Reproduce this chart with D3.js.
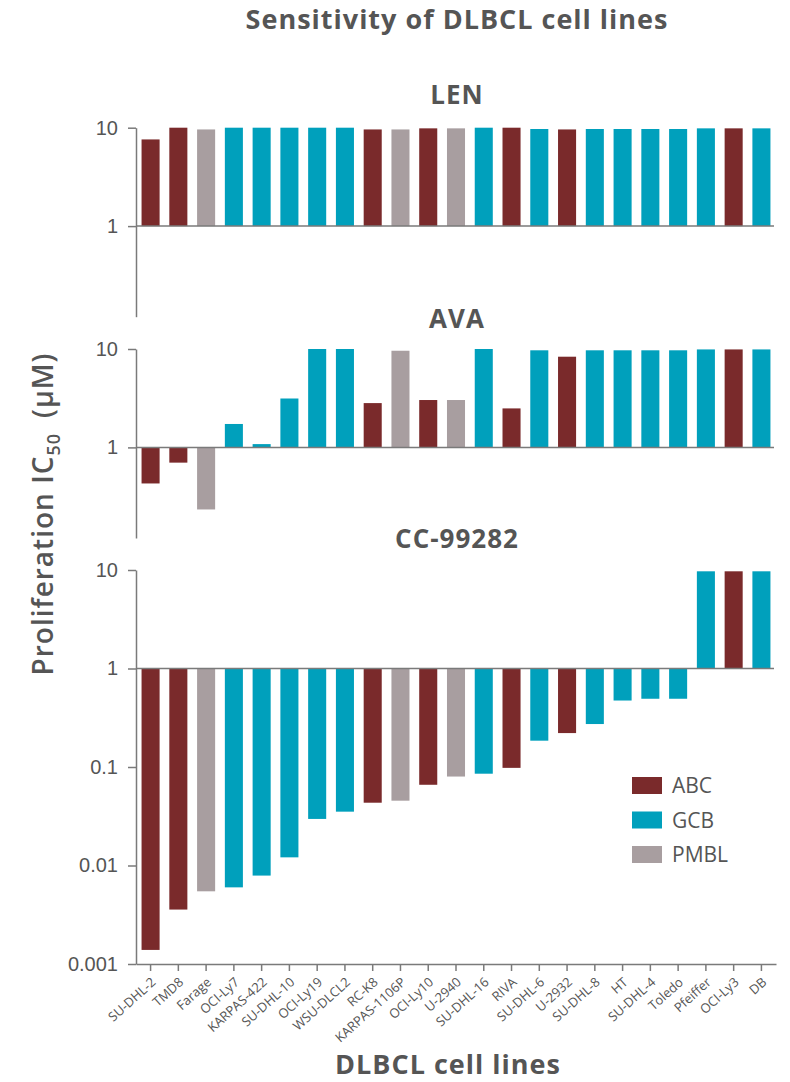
<!DOCTYPE html>
<html>
<head>
<meta charset="utf-8">
<script src="https://cdn.jsdelivr.net/npm/d3@7"></script>
<style>
  body { margin: 0; background: #fff; }
  svg { display: block; }
  .tick text { fill: #555; }
</style>
</head>
<body>
<div id="chart"></div>
<script>
// cell lines, left to right
const cellLines = ['SU-DHL-2', 'TMD8', 'Farage', 'OCI-Ly7', 'KARPAS-422', 'SU-DHL-10', 'OCI-Ly19', 'WSU-DLCL2',
    'RC-K8', 'KARPAS-1106P', 'OCI-Ly10', 'U-2940', 'SU-DHL-16', 'RIVA', 'SU-DHL-6', 'U-2932', 'SU-DHL-8',
    'HT', 'SU-DHL-4', 'Toledo', 'Pfeiffer', 'OCI-Ly3', 'DB'];
const subtypes = ['ABC', 'ABC', 'PMBL', 'GCB', 'GCB', 'GCB', 'GCB', 'GCB', 'ABC', 'PMBL', 'ABC', 'PMBL', 'GCB',
    'ABC', 'GCB', 'ABC', 'GCB', 'GCB', 'GCB', 'GCB', 'GCB', 'ABC', 'GCB'];

// IC50 (uM)
const lenValues = [7.6, 10, 9.6, 10, 10, 10, 10, 10, 9.6, 9.6, 9.85, 9.85, 10, 10, 9.7, 9.6, 9.7, 9.7, 9.7, 9.7, 9.85, 9.85, 9.85];
const avaValues = [0.43, 0.70, 0.234, 1.73, 1.08, 3.14, 10, 10, 2.82, 9.6, 3.03, 3.03, 10, 2.49, 9.7, 8.35, 9.7, 9.7, 9.7, 9.7, 9.9, 9.9, 9.9];
const ccValues = [0.00139, 0.00357, 0.00547, 0.0060, 0.0079, 0.0121, 0.0297, 0.0352, 0.0434, 0.0455, 0.066, 0.080,
    0.0855, 0.098, 0.185, 0.221, 0.273, 0.473, 0.493, 0.493, 9.7, 9.7, 9.7];

const legendLabels = ['ABC', 'GCB', 'PMBL'];
const colors = ['#7a2a2b', '#00a0bc', '#a89ea0'];

const w = 790;
const h = 1082;
const left = 136;
const right = 776;
const grey = '#555';
const axisGrey = '#7a7a7a';

const svg = d3.select('#chart')
    .append('svg')
    .attr('width', w)
    .attr('height', h);

const color = d3.scaleOrdinal().domain(legendLabels).range(colors);

const x = d3.scaleBand()
    .domain(cellLines)
    .range([left, right])
    .paddingInner(0.35)
    .paddingOuter(0.2);

const panels = [
    { name: 'LEN', values: lenValues, domain: [0.12, 10], range: [316.7, 127.7], ticks: [10, 1], titleY: 104 },
    { name: 'AVA', values: avaValues, domain: [0.12, 10], range: [538, 349], ticks: [10, 1], titleY: 328 },
    { name: 'CC-99282', values: ccValues, domain: [0.001, 10], range: [964, 570], ticks: [10, 1, 0.1, 0.01, 0.001], titleY: 548 }
];

const boldText = (sel, size) => sel
    .style('font-family', '"Open Sans", sans-serif')
    .style('font-weight', 700)
    .style('font-size', size + 'px')
    .style('letter-spacing', '1px')
    .attr('fill', grey);

panels.forEach((p, pi) => {
    const y = d3.scaleLog().domain(p.domain).range(p.range);
    const g = svg.append('g');

    g.selectAll('rect')
        .data(p.values)
        .enter()
        .append('rect')
        .attr('x', (d, i) => x(cellLines[i]))
        .attr('width', x.bandwidth())
        .attr('y', d => Math.min(y(d), y(1)))
        .attr('height', d => Math.abs(y(d) - y(1)))
        .attr('fill', (d, i) => color(subtypes[i]));

    // baseline at 1
    g.append('line')
        .attr('x1', left)
        .attr('x2', right - 2)
        .attr('y1', y(1))
        .attr('y2', y(1))
        .attr('stroke', axisGrey)
        .attr('stroke-width', 1.5);

    const yAxis = d3.axisLeft(y)
        .tickValues(p.ticks)
        .tickFormat(d => String(d))
        .tickSize(8)
        .tickSizeOuter(0)
        .tickPadding(10);

    const ya = g.append('g')
        .attr('transform', 'translate(' + left + ',0)')
        .call(yAxis);
    ya.select('.domain').attr('stroke', axisGrey).attr('stroke-width', 1.5);
    ya.selectAll('.tick line').attr('stroke', axisGrey).attr('stroke-width', 1.5);
    ya.selectAll('.tick text')
        .style('font-family', '"Liberation Sans", Arial, sans-serif')
        .style('font-size', '20px');

    svg.append('text')
        .attr('x', 457)
        .attr('y', p.titleY)
        .attr('text-anchor', 'middle')
        .call(boldText, 26)
        .text(p.name);

    if (pi === 2) {
        const xAxis = d3.axisBottom(x).tickSize(7).tickSizeOuter(0);
        const xa = g.append('g')
            .attr('transform', 'translate(0,' + y(0.001) + ')')
            .call(xAxis);
        xa.select('.domain').attr('stroke', axisGrey).attr('stroke-width', 1.5);
        xa.selectAll('.tick line').attr('stroke', axisGrey).attr('stroke-width', 1.5);
        xa.selectAll('.tick text')
            .attr('x', 0)
            .attr('y', 0)
            .attr('dy', '0.35em')
            .attr('transform', 'translate(3,16) rotate(-42)')
            .attr('text-anchor', 'end')
            .style('font-family', '"Open Sans", sans-serif')
            .style('font-size', '13px');
    }
});

svg.append('text')
    .attr('x', 457)
    .attr('y', 29)
    .attr('text-anchor', 'middle')
    .call(boldText, 27)
    .text('Sensitivity of DLBCL cell lines');

svg.append('text')
    .attr('x', 448)
    .attr('y', 1074)
    .attr('text-anchor', 'middle')
    .call(boldText, 27)
    .text('DLBCL cell lines');

const yLabel = svg.append('text')
    .attr('transform', 'translate(53,514) rotate(-90)')
    .attr('text-anchor', 'middle')
    .style('font-family', '"Open Sans", sans-serif')
    .style('font-weight', 600)
    .style('font-size', '28px')
    .style('letter-spacing', '1px')
    .attr('fill', grey);
yLabel.append('tspan').text('Proliferation IC');
yLabel.append('tspan').attr('dy', 7).style('font-size', '18px').text('50');
yLabel.append('tspan').attr('dy', -7).text('\u2002(µM)');

const legend = svg.append('g');
legendLabels.forEach((l, i) => {
    legend.append('rect')
        .attr('x', 632)
        .attr('y', 777 + i * 34.5)
        .attr('width', 30)
        .attr('height', 17)
        .attr('fill', color(l));
    legend.append('text')
        .attr('x', 672)
        .attr('y', 793 + i * 34.5)
        .style('font-family', '"Open Sans", sans-serif')
        .style('font-size', '21px')
        .attr('fill', grey)
        .text(l);
});
</script>
</body>
</html>
